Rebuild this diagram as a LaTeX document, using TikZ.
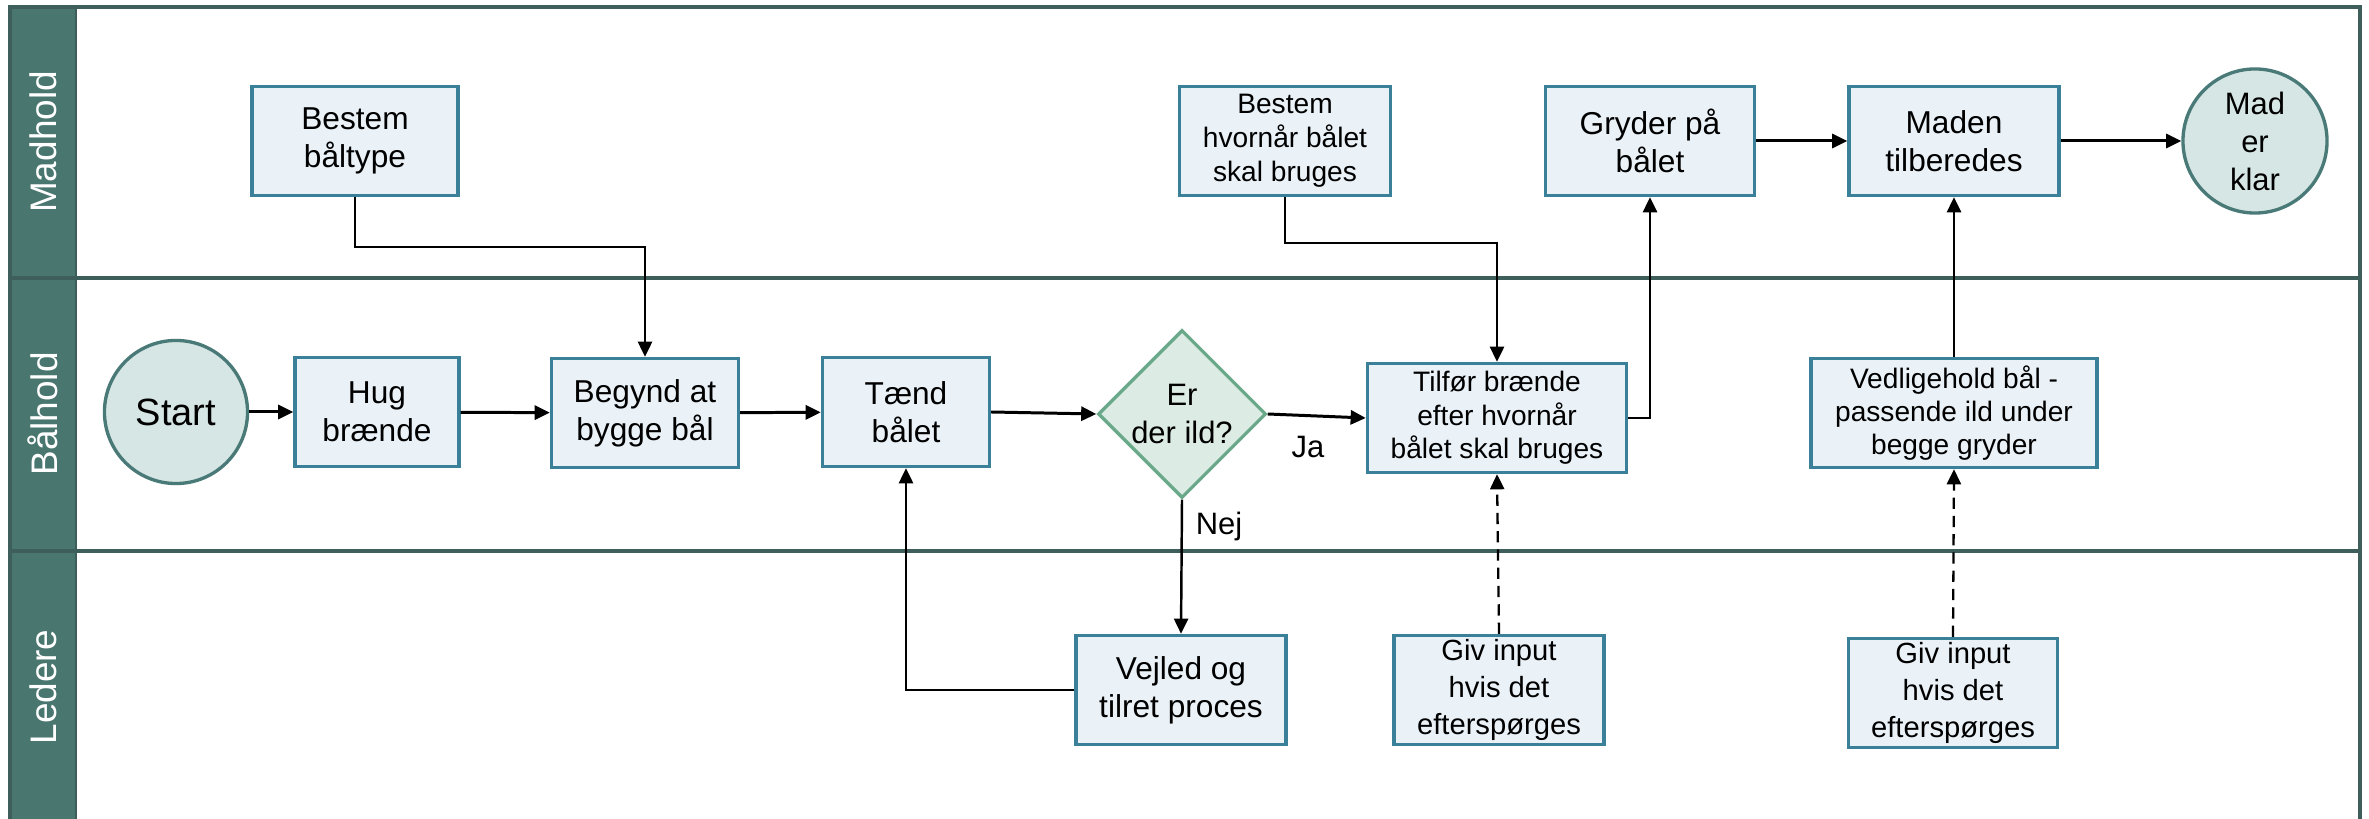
\documentclass[tikz,border=0pt]{standalone}
\usepackage{fontspec}
\setmainfont{Liberation Sans}
\usepackage{xcolor}
\usepackage{tikz}
\usetikzlibrary{shapes,arrows,positioning,calc}
\usetikzlibrary{shapes.geometric}
\usetikzlibrary{arrows.meta}
\definecolor{lanegreen}{RGB}{74,118,112}
\definecolor{laneline}{RGB}{61,94,90}
\definecolor{taskblue}{RGB}{58,128,153}
\definecolor{taskfill}{RGB}{234,242,248}
\definecolor{termfill}{RGB}{214,230,228}
\definecolor{termline}{RGB}{74,122,120}
\definecolor{decfill}{RGB}{221,235,229}
\definecolor{decline}{RGB}{105,169,138}

\begin{document}
\begin{tikzpicture}[x=0.01cm, y=-0.01cm,
    task/.style={rectangle, draw=taskblue, fill=taskfill, line width=0.95pt, minimum height=1.09cm, inner sep=0pt, align=center, font=\fontsize{9}{10.9}\selectfont},
    smalltask/.style={task, font=\fontsize{8}{9.5}\selectfont},
    terminal/.style={circle, draw=termline, fill=termfill, line width=0.95pt, minimum size=1.44cm, inner sep=0pt, align=center, font=\fontsize{8.8}{10.8}\selectfont},
    decision/.style={diamond, aspect=1, draw=decline, fill=decfill, line width=0.95pt, minimum width=1.68cm, minimum height=1.68cm, inner sep=0pt, align=center, font=\fontsize{8.8}{10.9}\selectfont},
    lanelabel/.style={rotate=90, text=white, font=\fontsize{10.5}{12}\selectfont},
    flow/.style={-{Triangle[length=4.3pt,width=4pt]}, line width=0.85pt},
    link/.style={-{Triangle[length=4.3pt,width=4pt]}, line width=0.7pt},
    hint/.style={link, line width=0.65pt, dash pattern=on 3.2pt off 2pt},
    tag/.style={font=\fontsize{8.8}{10.8}\selectfont}
]
\useasboundingbox (0,0) rectangle (2369,819);

% Swimlanes
\fill[lanegreen] (10,7) rectangle (76,819);
\draw[laneline, line width=0.9pt] (10,819) -- (10,7) -- (2360,7) -- (2360,819);
\draw[laneline, line width=0.6pt] (76,7) -- (76,819);
\draw[laneline, line width=0.9pt] (10,278) -- (2360,278);
\draw[laneline, line width=0.9pt] (10,551) -- (2360,551);
\node[lanelabel] (madhold) at (43,142) {Madhold};
\node[lanelabel] (baalhold) at (43,414) {Bålhold};
\node[lanelabel] (ledere) at (43,687) {Ledere};

% Madhold
\node[task, minimum width=2.06cm] (baaltype) at (355,141) {Bestem\\båltype};
\node[smalltask, minimum width=2.11cm, font=\fontsize{8}{9.7}\selectfont] (hvornaar) at (1285,141) {Bestem\\hvornår bålet\\skal bruges};
\node[task, minimum width=2.09cm] (gryder) at (1650,141) {Gryder på\\bålet};
\node[task, minimum width=2.10cm] (maden) at (1954,141) {Maden\\tilberedes};
\node[terminal] (klar) at (2255,141) {Mad\\er\\klar};

% Bålhold
\node[terminal, minimum size=1.43cm, font=\fontsize{10.8}{12}\selectfont] (start) at (176,412) {Start};
\node[task, minimum width=1.64cm] (hug) at (377,412) {Hug\\brænde};
\node[task, minimum width=1.87cm] (begynd) at (645,413) {Begynd at\\bygge bål};
\node[task, minimum width=1.67cm] (taend) at (906,412) {Tænd\\bålet};
\node[decision] (ild) at (1182,414) {Er\\der ild?};
\node[smalltask, minimum width=2.59cm] (tilfoer) at (1497,418) {Tilfør brænde\\efter hvornår\\bålet skal bruges};
\node[smalltask, minimum width=2.86cm] (vedlige) at (1954,413) {Vedligehold bål -\\passende ild under\\begge gryder};

% Ledere
\node[task, minimum width=2.10cm] (vejled) at (1181,690) {Vejled og\\tilret proces};
\node[task, minimum width=2.10cm, font=\fontsize{8.3}{10.4}\selectfont] (input1) at (1499,690) {Giv input\\hvis det\\efterspørges};
\node[task, minimum width=2.09cm, font=\fontsize{8.3}{10.4}\selectfont] (input2) at (1953,693) {Giv input\\hvis det\\efterspørges};

% Main flow
\draw[flow] (start) -- (hug);
\draw[flow] (hug) -- (begynd);
\draw[flow] (begynd) -- (taend);
\draw[flow] (taend.east) -- (ild.west);
\draw[flow] (ild.east) -- (tilfoer.west);
\draw[flow] (gryder) -- (maden);
\draw[flow] (maden) -- (klar);

% Branches and hand-overs
\draw[link] (ild.south) -- (vejled.north);
\draw[link] (vejled.west) -| (taend.south);
\draw[link] (baaltype.south) -- ++(0,50) -| (begynd.north);
\draw[link] (hvornaar.south) -- ++(0,46) -| (tilfoer.north);
\draw[link] (tilfoer.east) -| (gryder.south);
\draw[link] (vedlige.north) -- (maden.south);
\draw[hint] (input1.north) -- (tilfoer.south);
\draw[hint] (input2.north) -- (vedlige.south);

\node[tag] (ja) at (1308,447) {Ja};
\node[tag] (nej) at (1219,527) {Nej};

\end{tikzpicture}
\end{document}
